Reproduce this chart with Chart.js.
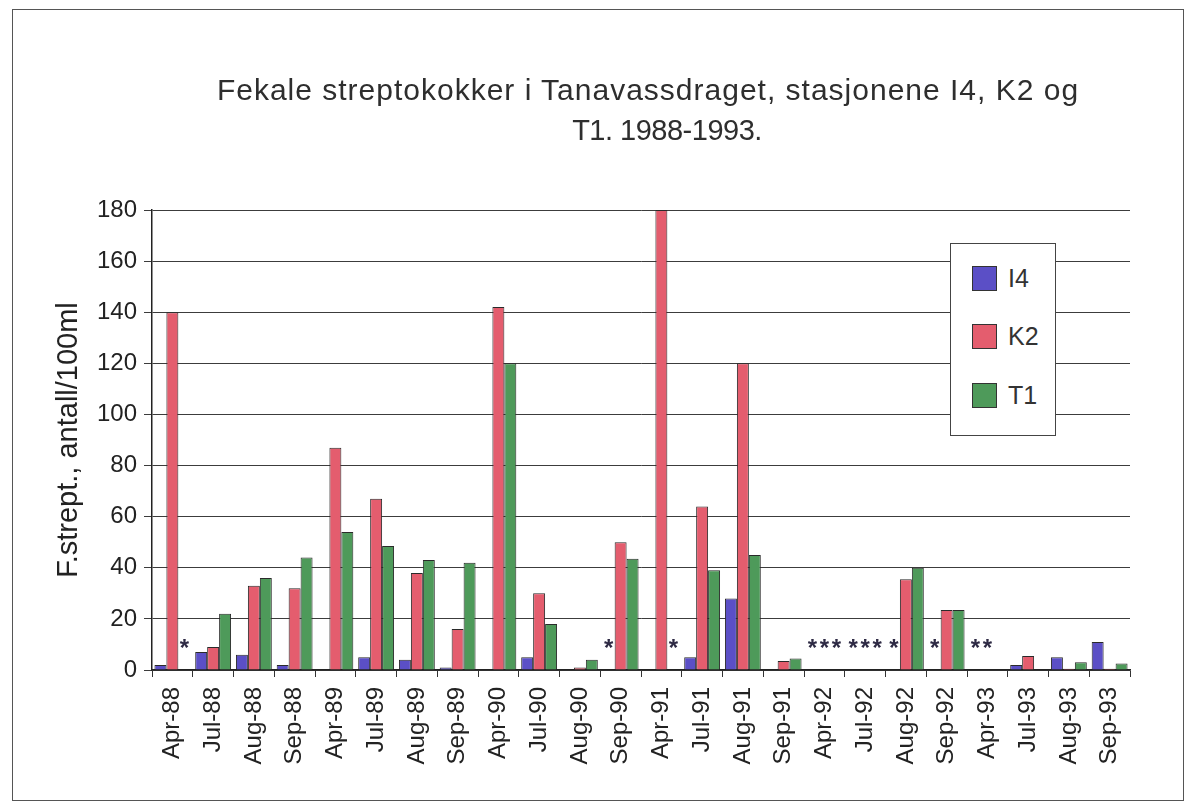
<!DOCTYPE html>
<html><head><meta charset="utf-8">
<script src="https://cdn.jsdelivr.net/npm/chart.js@4/dist/chart.umd.min.js"></script>
<style>
html,body{margin:0;padding:0;background:#fff;}
body{width:1187px;height:804px;position:relative;overflow:hidden;font-family:"Liberation Sans",Arial,sans-serif;}
#frame{position:absolute;left:12px;top:9px;width:1172px;height:792px;border:1.5px solid #555;box-sizing:border-box;}
#c{position:absolute;left:0;top:0;}
.t{position:absolute;width:1000px;text-align:center;font-size:30px;line-height:36px;color:#2e2e2e;white-space:nowrap;}
#t1{left:148px;top:72px;letter-spacing:1px;}
#t2{left:167px;top:112px;font-size:29px;letter-spacing:-0.5px;}
#legend{position:absolute;left:950px;top:243px;width:106px;height:193px;border:1.5px solid #444;background:#fff;box-sizing:border-box;}
.item{position:absolute;left:21px;height:25px;display:flex;align-items:center;}
.sw{width:25px;height:25px;box-sizing:border-box;border:1.5px solid #333;margin-right:11px;}
.lb{font-size:25px;color:#333;line-height:25px;}
</style></head><body>
<div id="frame"></div>
<canvas id="c" width="1187" height="804"></canvas>
<div class="t" id="t1">Fekale streptokokker i Tanavassdraget, stasjonene I4, K2 og</div>
<div class="t" id="t2">T1. 1988-1993.</div>
<div id="legend"></div>
<script>
const categories = ['Apr-88','Jul-88','Aug-88','Sep-88','Apr-89','Jul-89','Aug-89','Sep-89','Apr-90','Jul-90','Aug-90','Sep-90','Apr-91','Jul-91','Aug-91','Sep-91','Apr-92','Jul-92','Aug-92','Sep-92','Apr-93','Jul-93','Aug-93','Sep-93'];
// null = no sample (marked with * in the original)
const seriesI4 = [2, 7, 6, 2, 0, 5, 4, 1, 0, 5, 0, null, 0, 5, 28, 0, null, null, null, null, null, 2, 5, 11];
const seriesK2 = [140, 9, 33, 32, 87, 67, 38, 16, 142, 30, 1, 50, 180, 64, 120, 3.5, null, null, 35.5, 23.5, null, 5.5, 0.5, 0.5];
const seriesT1 = [null, 22, 36, 44, 54, 48.5, 43, 42, 120, 18, 4, 43.5, null, 39, 45, 4.5, null, null, 40, 23.5, 0, 0, 3, 2.5];
const seriesNames = ['I4','K2','T1'];
const seriesColors = ['#5b4fc6','#e45d6e','#4e9a5a'];
const yTicks = {min:0, max:180, step:20};

const FONT = '"Liberation Sans", Arial, sans-serif';

const missingMark = {
  id:'missingMark',
  afterDatasetsDraw(chart){
    const ctx = chart.ctx, y = chart.scales.y;
    ctx.save();
    ctx.fillStyle = '#2e2a44';
    ctx.font = 'bold 24px ' + FONT;
    ctx.textAlign = 'center';
    ctx.textBaseline = 'alphabetic';
    chart.data.datasets.forEach((ds, di) => {
      const meta = chart.getDatasetMeta(di);
      ds.data.forEach((v, i) => {
        if (v === null) {
          const el = meta.data[i];
          ctx.fillText('*', el.x, y.getPixelForValue(0) - 14);
        }
      });
    });
    ctx.restore();
  }
};

const datasets = [seriesI4, seriesK2, seriesT1].map((d, i) => ({
  label: seriesNames[i], data: d,
  backgroundColor: seriesColors[i], borderColor: '#2a2a2a', borderWidth: 1, borderSkipped: 'start'
}));

new Chart(document.getElementById('c'), {
  type: 'bar',
  data: { labels: categories, datasets },
  options: {
    responsive: false, animation: false, devicePixelRatio: 1,
    layout: { padding: { top: 210, right: 57, bottom: 0, left: 0 } },
    datasets: { bar: { categoryPercentage: 0.88, barPercentage: 1 } },
    plugins: { legend: { display: false }, title: { display: false }, tooltip: { enabled: false } },
    scales: {
      x: {
        grid: { display: true, drawOnChartArea: false, drawTicks: true, tickLength: 7, color: '#333', offset: true },
        border: { display: true, color: '#222', width: 1.5 },
        ticks: { minRotation: 90, maxRotation: 90, autoSkip: false, padding: 10, color: '#222', font: { family: FONT, size: 24 } },
        afterFit: s => { s.height = 134; }
      },
      y: {
        min: yTicks.min, max: yTicks.max,
        ticks: { stepSize: yTicks.step, padding: 7, color: '#222', font: { family: FONT, size: 24 } },
        grid: { color: '#3c3c3c', lineWidth: 1, tickLength: 8 },
        border: { display: true, color: '#222', width: 1.5 },
        title: { display: true, text: 'F.strept., antall/100ml', color: '#222', font: { family: FONT, size: 29 }, padding: { top: 52, bottom: 0 } },
        afterFit: s => { s.width = 152; }
      }
    }
  },
  plugins: [missingMark]
});

const leg = document.getElementById('legend');
const tops = [22, 80, 139];
seriesNames.forEach((n, i) => {
  const it = document.createElement('div');
  it.className = 'item'; it.style.top = tops[i] + 'px';
  it.innerHTML = '<div class="sw" style="background:' + seriesColors[i] + '"></div><span class="lb">' + n + '</span>';
  leg.appendChild(it);
});
</script>
</body></html>
